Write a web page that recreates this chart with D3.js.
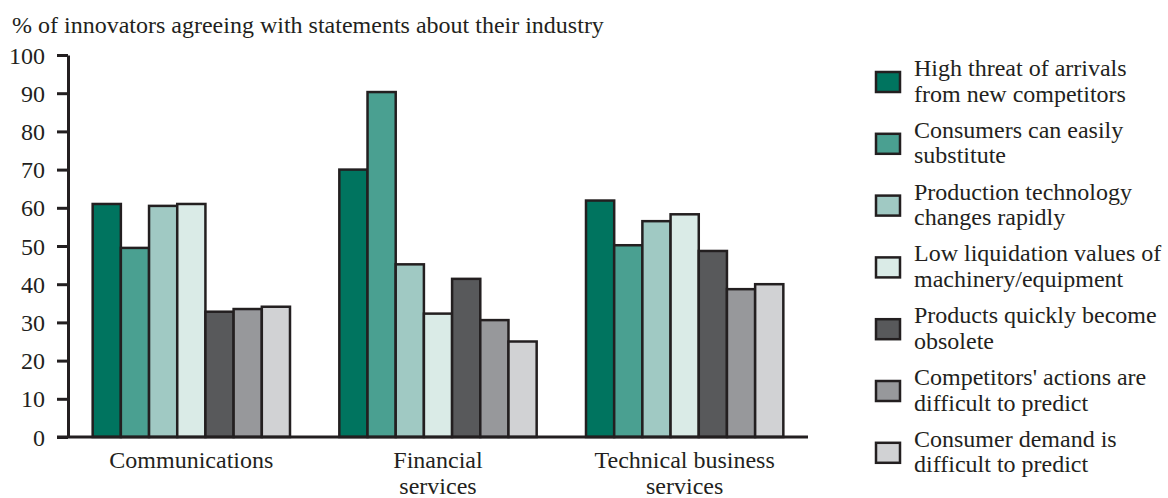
<!DOCTYPE html>
<html>
<head>
<meta charset="utf-8">
<script src="https://cdn.jsdelivr.net/npm/d3@7"></script>
<style>
  html, body { margin: 0; padding: 0; background: #fff; }
</style>
</head>
<body>
<svg id="chart" width="1168" height="498"></svg>
<script>
// Industries (x groups), multi-line labels
const industries = ["Communications", "Financial services", "Technical business services"];
const industryLabels = [["Communications"], ["Financial", "services"], ["Technical business", "services"]];

// Statements (series)
const statements = [
  "High threat of arrivals from new competitors",
  "Consumers can easily substitute",
  "Production technology changes rapidly",
  "Low liquidation values of machinery/equipment",
  "Products quickly become obsolete",
  "Competitors' actions are difficult to predict",
  "Consumer demand is difficult to predict"
];
const statementLabels = [
  ["High threat of arrivals", "from new competitors"],
  ["Consumers can easily", "substitute"],
  ["Production technology", "changes rapidly"],
  ["Low liquidation values of", "machinery/equipment"],
  ["Products quickly become", "obsolete"],
  ["Competitors' actions are", "difficult to predict"],
  ["Consumer demand is", "difficult to predict"]
];

// % agreeing, one array per industry, in statement order
const communications = [61, 49.5, 60.5, 61, 32.8, 33.5, 34.1];
const financial      = [70, 90.3, 45.2, 32.3, 41.4, 30.6, 25];
const technical      = [61.9, 50.2, 56.5, 58.3, 48.7, 38.7, 40];
const values = [communications, financial, technical];

const yTicks = [0, 10, 20, 30, 40, 50, 60, 70, 80, 90, 100];
const colors = ["#00745f", "#4aa091", "#a0c9c3", "#daebe7", "#58595b", "#97989b", "#d1d2d4"];
const ink = "#231f20";
const serif = '"Liberation Serif", "Times New Roman", Times, serif';
const fs = 24;

const svg = d3.select("#chart");

const x0 = d3.scaleBand().domain(industries).range([68, 808]).paddingInner(0.2).paddingOuter(0.1);
const x1 = d3.scaleBand().domain(statements).range([0, x0.bandwidth()]);
const y = d3.scaleLinear().domain([0, 100]).range([437, 55]);
const color = d3.scaleOrdinal().domain(statements).range(colors);

// Title
svg.append("text")
  .attr("x", 12).attr("y", 33)
  .attr("font-family", serif)
  .attr("font-size", fs).attr("fill", ink)
  .text("% of innovators agreeing with statements about their industry");

// Bars
const groups = svg.append("g").selectAll("g")
  .data(industries)
  .join("g")
  .attr("transform", d => `translate(${x0(d)},0)`);

groups.selectAll("rect")
  .data((d, i) => statements.map((s, j) => ({ s, v: values[i][j] })))
  .join("rect")
  .attr("x", d => x1(d.s))
  .attr("y", d => y(d.v))
  .attr("width", x1.bandwidth())
  .attr("height", d => y(0) - y(d.v))
  .attr("fill", d => color(d.s))
  .attr("stroke", ink)
  .attr("stroke-width", 2.5);

// Y axis
const yAxis = svg.append("g")
  .attr("transform", "translate(68,0)")
  .call(d3.axisLeft(y).tickValues(yTicks).tickSize(11).tickPadding(12).tickSizeOuter(0));
yAxis.attr("font-family", serif).attr("font-size", fs);
yAxis.select(".domain").attr("stroke", ink).attr("stroke-width", 3);
yAxis.selectAll(".tick line").attr("stroke", ink).attr("stroke-width", 3);
yAxis.selectAll(".tick text").attr("fill", ink).attr("dy", "0.34em");

// Baseline
svg.append("line")
  .attr("x1", 57).attr("x2", x0.range()[1])
  .attr("y1", y(0)).attr("y2", y(0))
  .attr("stroke", ink).attr("stroke-width", 3);

// X labels
svg.append("g").selectAll("text")
  .data(industries)
  .join("text")
  .attr("x", d => x0(d) + x0.bandwidth() / 2)
  .attr("y", 468)
  .attr("text-anchor", "middle")
  .attr("font-family", serif)
  .attr("font-size", fs).attr("fill", ink)
  .each(function(d, i) {
    d3.select(this).selectAll("tspan")
      .data(industryLabels[i])
      .join("tspan")
      .attr("x", x0(d) + x0.bandwidth() / 2)
      .attr("dy", (t, k) => k === 0 ? 0 : 25.5)
      .text(t => t);
  });

// Legend
const legend = svg.append("g").selectAll("g")
  .data(statements)
  .join("g")
  .attr("transform", (d, i) => `translate(876,${72 + i * 61.8})`);

legend.append("rect")
  .attr("width", 24).attr("height", 20)
  .attr("fill", d => color(d))
  .attr("stroke", ink).attr("stroke-width", 2.5);

legend.append("text")
  .attr("x", 38).attr("y", 4)
  .attr("font-family", serif)
  .attr("font-size", fs).attr("fill", ink)
  .each(function(d, i) {
    d3.select(this).selectAll("tspan")
      .data(statementLabels[i])
      .join("tspan")
      .attr("x", 38)
      .attr("dy", (t, k) => k === 0 ? 0 : 25.7)
      .text(t => t);
  });
</script>
</body>
</html>
